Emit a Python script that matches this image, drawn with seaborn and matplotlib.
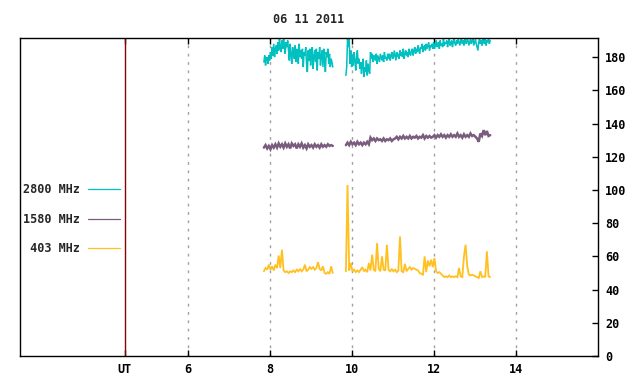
import numpy as np
import pandas as pd
import matplotlib
matplotlib.use('Agg')
import matplotlib.pyplot as plt
import seaborn as sns
from matplotlib.lines import Line2D

# observation windows (UT hours), two segments with a gap
seg_times = [(7.85, 9.53), (9.85, 13.37)]

flux_2800_a = [177, 181, 175, 179, 180, 176, 181, 178,
               183, 179, 186, 181, 188, 180, 185, 187, 182,
               189, 184, 191, 186, 183, 190, 185, 191, 187, 182, 189, 186, 190,
               184, 178, 188, 181, 176, 186, 183, 179, 187, 177, 185, 182, 176, 188, 180, 184,
               179, 185, 174, 183, 181, 186, 176, 171, 184, 178, 185, 175, 182, 186, 173, 180, 184, 177,
               185, 172, 183, 179, 186, 175, 181, 184, 174, 185, 178, 171, 183, 180, 185, 176, 182, 174, 179,
               177, 174]
flux_2800_b = [169, 174, 191, 186, 191, 176, 184, 174,
               181, 175, 183, 178, 172, 180, 184, 176, 179, 173,
               177, 170, 175, 179, 168, 174, 171, 178, 169, 176, 172, 170,
               183,
               179, 182, 177, 181, 180, 178, 182, 176, 181, 179, 177, 182, 180, 178, 181, 177, 183, 179,
               180, 178, 182, 179,
               182, 178, 181, 183, 179, 180, 184, 181, 178, 183, 180, 182, 179, 184, 181, 183, 180, 185,
               179, 182, 184, 181, 183, 180, 185, 182, 181, 184,
               185, 181, 184, 186, 182, 185, 183, 187, 184, 182, 186, 185, 188, 183, 186, 187, 184, 188,
               185, 187, 189, 184, 187, 186, 188, 185,
               189, 185, 187, 190, 186, 188, 189, 185, 190, 187, 188, 186, 191, 187, 189, 188, 190, 186,
               189, 191, 187, 188, 190, 186, 189, 191, 188, 187, 190,
               188, 191, 189, 187, 190, 191, 188, 190, 187, 191, 189, 188, 191, 190, 187, 189, 191, 188,
               190, 191, 187, 189, 191, 188, 186, 184, 189, 191, 188, 190, 187, 191, 189, 188, 191, 187,
               190, 189, 191, 188, 190]

flux_1580_a = [125.5, 127, 125, 126.5, 124.5, 127, 125.5, 127.5, 125.5, 128, 126, 127.5, 125.5, 128,
               126, 127.5, 125, 128, 126.5, 127.5, 125, 127.5, 126, 128, 125.5, 127, 125, 127.5, 126,
               127, 125.5, 127.5, 126, 127, 125.5, 127.5, 126, 127, 126, 127.5, 126.5, 127, 126.5]
flux_1580_b = [127, 128.5, 127, 129, 127.5, 128.5, 127, 129, 127.5, 128.5, 127, 128.5, 127.5, 129, 127.5,
               131.5, 130, 131, 129.5, 131, 130, 130.5, 129.5, 131, 129.5, 130.5, 130, 131, 129.5, 130.5,
               131, 132, 130.5, 132, 131, 132.5, 131, 132, 131, 132.5, 131, 132, 131.5, 132.5, 131, 132,
               131.5, 133, 131, 132.5, 131.5, 132.5, 131.5,
               132, 133, 131.5, 133, 132, 133.5, 132, 133, 131.5, 133, 132, 133.5, 132, 133, 132, 134,
               132, 133, 131.5, 133.5, 132, 133, 132, 134, 132.5, 133,
               132, 131, 129, 134, 132.5, 136, 133, 135.5, 132.5, 133]

flux_403_a = [51, 53, 52, 55, 52, 54, 51.5, 55, 53, 60.5, 53, 64,
              51.5, 50.5, 51, 50, 51, 50.5, 51.5, 50.5, 52, 51, 52.5, 51, 52,
              55, 51, 52, 53.5, 52.5, 53.5, 52, 53, 56.5, 52.5, 51.5, 54, 50, 49.5, 50.5, 49.5, 54, 50]
flux_403_b = [51, 103, 51.5, 56, 51, 52, 50.5, 51.5, 50.5, 52, 53.5, 51, 52, 50.5, 56, 51.5, 61, 52,
              51, 68, 52.5, 51, 60, 52, 51.5, 67, 52, 51, 52.5, 51, 52, 50.5, 51.5, 72, 51, 50.5,
              55.5, 51, 52.5, 53.5, 52, 53, 52.5, 52, 51.5, 50, 49.5, 49, 60, 50.5, 57.5, 54, 58,
              53.5, 59, 51, 50, 50.5, 49.5, 48.5, 47.5, 48, 47.5, 48.5, 47.5, 48, 47.5, 48, 47.5,
              53, 48, 47.5, 60, 67, 54, 49, 48.5, 49, 48.5, 48, 47.5, 47, 51, 47.5, 48, 47.5, 63,
              48, 47.5]

bands = ['2800 MHz', '1580 MHz', '403 MHz']
series = {'2800 MHz': [flux_2800_a, flux_2800_b],
          '1580 MHz': [flux_1580_a, flux_1580_b],
          '403 MHz': [flux_403_a, flux_403_b]}
colors = {'2800 MHz': '#00c0c0', '1580 MHz': '#7a5c7e', '403 MHz': '#ffc020'}
widths = {'2800 MHz': 1.1, '1580 MHz': 1.8, '403 MHz': 1.3}

y_ticks = list(range(0, 181, 20))
x_ticks = [4.46, 6, 8, 10, 12, 14]
x_labels = ['UT', '6', '8', '10', '12', '14']
grid_hours = [6, 8, 10, 12, 14]

rows = []
for band in bands:
    for k, vals in enumerate(series[band]):
        t = np.linspace(seg_times[k][0], seg_times[k][1], len(vals))
        for tt, v in zip(t, vals):
            rows.append((tt, v, band, k))
df = pd.DataFrame(rows, columns=['ut', 'flux', 'band', 'seg'])

sns.set_style('white')
plt.rcParams['font.family'] = ['DejaVu Sans Mono']
plt.rcParams['font.weight'] = 'bold'
plt.rcParams['font.size'] = 8.5

fig = plt.figure(figsize=(6.4, 3.84), dpi=100)
ax = fig.add_axes([20/640, 28/384, 578/640, 318/384])

for h in grid_hours:
    ax.axvline(h, color='#a0a0a0', lw=1, ls=(0, (2, 4)), zorder=0)
ax.axvline(x_ticks[0], color='#8b0000', lw=1, zorder=1)

for band in bands:
    sub = df[df['band'] == band]
    sns.lineplot(data=sub, x='ut', y='flux', units='seg', estimator=None,
                 color=colors[band], lw=widths[band], legend=False, sort=False,
                 solid_joinstyle='miter', ax=ax)

ax.set_xlim(1.9, 16.0)
ax.set_ylim(0, 191.5)
ax.set_xticks(x_ticks)
ax.set_xticklabels(x_labels)
ax.set_yticks(y_ticks)
ax.yaxis.tick_right()
ax.tick_params(axis='x', direction='in', length=4, width=1, top=True, bottom=True, pad=5, colors='black')
ax.tick_params(axis='y', direction='in', length=4, width=1, left=False, right=True, pad=5, colors='black')
ax.set_xlabel('')
ax.set_ylabel('')
for s in ax.spines.values():
    s.set_color('black')
    s.set_linewidth(1)

ax.set_title('06 11 2011', pad=10.5, fontsize=8.5, fontweight='bold')

handles = [Line2D([], [], color=colors[b], lw=0.9) for b in bands]
labels = ['2800 MHz', '1580 MHz', ' 403 MHz']
ax.legend(handles, labels, loc='center right', bbox_to_anchor=(0.173, 0.43),
          frameon=False, markerfirst=False, handlelength=2.7, handletextpad=0.65,
          labelspacing=1.4, borderpad=0, borderaxespad=0)

fig.savefig('out.png', dpi=100, facecolor='white')
